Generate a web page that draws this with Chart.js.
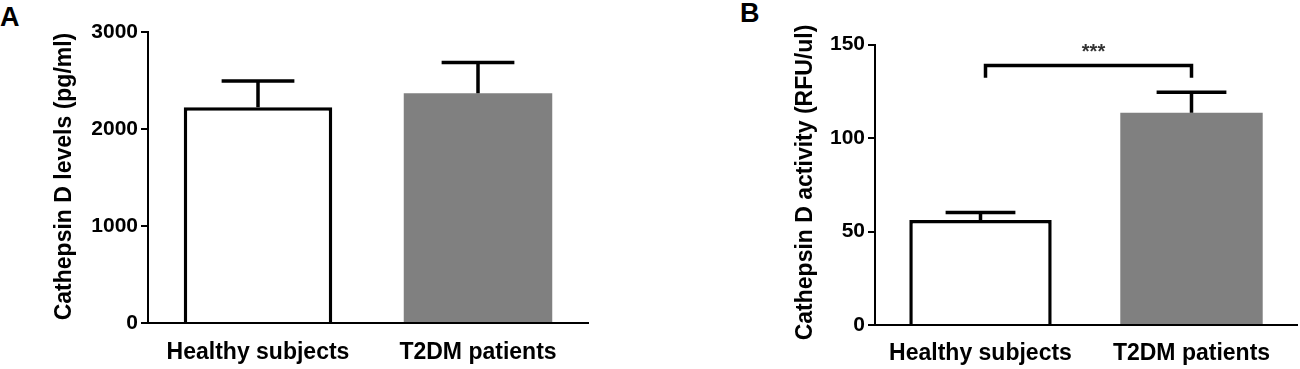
<!DOCTYPE html>
<html>
<head>
<meta charset="utf-8">
<script src="https://cdn.jsdelivr.net/npm/chart.js@4.4.0/dist/chart.umd.min.js"></script>
<style>
  html, body { margin: 0; padding: 0; background: #fff; }
  body { width: 1300px; height: 369px; position: relative; overflow: hidden; font-family: "Liberation Sans", Arial, sans-serif; }
  .panel { position: absolute; top: 0; }
  .tag { position: absolute; font-weight: bold; font-size: 27px; line-height: 27px; color: #000; }
</style>
</head>
<body>
<div class="tag" style="left:0px;top:4px">A</div>
<div class="tag" style="left:740px;top:0px">B</div>
<canvas id="chartA" class="panel" style="left:0px" width="600" height="369"></canvas>
<canvas id="chartB" class="panel" style="left:700px" width="600" height="369"></canvas>
<script>
// data
const groups = ["Healthy subjects", "T2DM patients"];

const levelMeans = [2225, 2368];
const levelSem = [270, 318];
const levelTicks = [0, 1000, 2000, 3000];

const activityMeans = [56.1, 113.5];
const activitySem = [4.0, 10.9];
const activityTicks = [0, 50, 100, 150];

const sigLabel = "***";
const sigBracket = [132.2, 138.8]; // leg foot, bracket top
const sigTextLevel = 145.5;

const FONT = '"Liberation Sans", Arial, sans-serif';
Chart.defaults.font.family = FONT;

// SEM whiskers on top of each bar
const errorBars = {
  id: "errorBars",
  afterDatasetsDraw(chart, args, opts) {
    const { ctx, scales: { y } } = chart;
    const values = chart.data.datasets[0].data;
    const meta = chart.getDatasetMeta(0);
    ctx.save();
    ctx.strokeStyle = "#000";
    ctx.lineWidth = 3.5;
    meta.data.forEach((bar, i) => {
      const top = y.getPixelForValue(values[i] + opts.sem[i]);
      const half = bar.width * 0.245;
      ctx.beginPath();
      ctx.moveTo(bar.x, bar.y);
      ctx.lineTo(bar.x, top);
      ctx.moveTo(bar.x - half, top);
      ctx.lineTo(bar.x + half, top);
      ctx.stroke();
    });
    ctx.restore();
  }
};

// rotated y axis title (drawn by hand so it is not squeezed)
const yTitle = {
  id: "yTitle",
  afterDraw(chart, args, opts) {
    const ctx = chart.ctx;
    ctx.save();
    ctx.translate(opts.x, opts.y);
    ctx.rotate(-Math.PI / 2);
    ctx.font = "bold 23px " + FONT;
    ctx.fillStyle = "#000";
    ctx.textAlign = "center";
    ctx.textBaseline = "middle";
    ctx.fillText(opts.text, 0, 0);
    ctx.restore();
  }
};

// significance bracket between the two groups
const sigMark = {
  id: "sigMark",
  afterDatasetsDraw(chart, args, opts) {
    if (!opts.label) return;
    const { ctx, scales: { x, y } } = chart;
    const x0 = x.getPixelForValue(0) + 5;
    const x1 = x.getPixelForValue(1);
    const yFoot = y.getPixelForValue(opts.bracket[0]);
    const yTop = y.getPixelForValue(opts.bracket[1]);
    ctx.save();
    ctx.strokeStyle = "#000";
    ctx.lineWidth = 3.5;
    ctx.lineJoin = "miter";
    ctx.beginPath();
    ctx.moveTo(x0, yFoot);
    ctx.lineTo(x0, yTop);
    ctx.lineTo(x1, yTop);
    ctx.lineTo(x1, yFoot);
    ctx.stroke();
    ctx.font = "bold 20px " + FONT;
    ctx.fillStyle = "#333";
    ctx.textAlign = "center";
    ctx.textBaseline = "middle";
    ctx.fillText(opts.label, (x0 + x1) / 2 + 5, y.getPixelForValue(opts.textLevel));
    ctx.restore();
  }
};

function makeChart(id, means, sem, ticks, box, title, sig) {
  return new Chart(document.getElementById(id), {
    type: "bar",
    data: {
      labels: groups,
      datasets: [{
        data: means,
        backgroundColor: ["#ffffff", "#808080"],
        borderColor: ["#000000", "#808080"],
        borderWidth: [3.5, 0],
        barPercentage: 0.675,
        categoryPercentage: 1
      }]
    },
    plugins: [errorBars, yTitle, sigMark],
    options: {
      responsive: false,
      animation: false,
      events: [],
      layout: { padding: { top: box.top, right: box.right, left: 0, bottom: 0 } },
      plugins: {
        legend: { display: false },
        tooltip: { enabled: false },
        errorBars: { sem },
        yTitle: title,
        sigMark: sig || {}
      },
      scales: {
        x: {
          grid: { display: false, drawTicks: false },
          border: { color: "#000", width: 2 },
          ticks: { color: "#000", padding: box.labelPad, font: { size: 23, weight: "bold", lineHeight: 1 } },
          afterFit: s => { s.height = box.xHeight; }
        },
        y: {
          min: ticks[0],
          max: ticks[ticks.length - 1],
          ticks: {
            stepSize: ticks[1] - ticks[0],
            color: "#000",
            padding: 3,
            font: { size: 21, weight: "bold" },
            callback: v => String(v)
          },
          grid: { drawOnChartArea: false, tickLength: 7, color: "#000", lineWidth: 2 },
          border: { color: "#000", width: 2 },
          afterFit: s => { s.width = box.yWidth; }
        }
      }
    }
  });
}

makeChart("chartA", levelMeans, levelSem, levelTicks,
  { top: 32, right: 12, yWidth: 148, xHeight: 46, labelPad: 18 },
  { text: "Cathepsin D levels (pg/ml)", x: 64.5, y: 176.5 });

makeChart("chartB", activityMeans, activitySem, activityTicks,
  { top: 44.5, right: 3, yWidth: 175, xHeight: 44, labelPad: 17 },
  { text: "Cathepsin D activity (RFU/ul)", x: 106, y: 182.5 },
  { label: sigLabel, bracket: sigBracket, textLevel: sigTextLevel });
</script>
</body>
</html>
